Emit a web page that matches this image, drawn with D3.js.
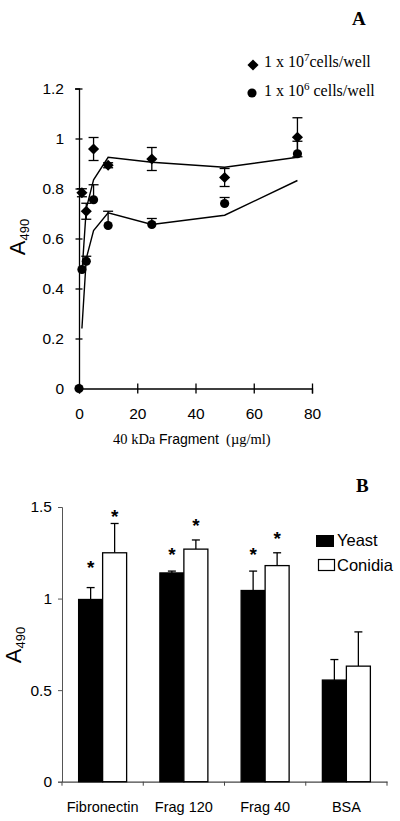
<!DOCTYPE html>
<html><head><meta charset="utf-8">
<script src="https://cdn.jsdelivr.net/npm/d3@7"></script>
<style>body{margin:0;background:#fff}svg{display:block}</style>
</head><body>
<script>
// ---------- Panel A data ----------
const concA = [1, 2.5, 5, 10, 25, 50, 75];
const hiCells = [0.783, 0.709, 0.958, 0.893, 0.918, 0.844, 1.005];
const hiErr   = [0.016, 0.032, 0.046, 0.010, 0.046, 0.036, 0.078];
const hiFit   = [0.46, 0.72, 0.835, 0.925, 0.905, 0.885, 0.925];
const concLo = [0, 1, 2.5, 5, 10, 25, 50, 75];
const loCells = [0, 0.476, 0.509, 0.755, 0.652, 0.656, 0.740, 0.939];
const loErr   = [0, 0, 0.020, 0.060, 0.057, 0.024, 0.024, 0.050];
const loFit   = [0.24, 0.52, 0.632, 0.703, 0.656, 0.693, 0.832];
const yTicksA = [0, 0.2, 0.4, 0.6, 0.8, 1, 1.2];
const xTicksA = [0, 20, 40, 60, 80];

// ---------- Panel B data ----------
const categories = ["Fibronectin", "Frag 120", "Frag 40", "BSA"];
const series = ["Yeast", "Conidia"];
const yeast = [0.995, 1.14, 1.044, 0.555];
const yeastErr = [0.065, 0.01, 0.106, 0.112];
const conidia = [1.25, 1.27, 1.18, 0.631];
const conidiaErr = [0.16, 0.05, 0.07, 0.187];
const yeastStar = [1.19, 1.26, 1.26, null];
const conidiaStar = [1.465, 1.418, 1.349, null];
const yTicksB = [0, 0.5, 1, 1.5];

const sans = "'Liberation Sans', Arial, sans-serif";
const serif = "'Liberation Serif', 'Times New Roman', serif";

const svg = d3.select("body").append("svg").attr("width", 400).attr("height", 821);

// ================= Panel A =================
const xA = d3.scaleLinear().domain([0, 80]).range([79, 312]);
const yA = d3.scaleLinear().domain([0, 1.2]).range([388.5, 88.5]);
const gA = svg.append("g");

const axYA = gA.append("g").attr("transform", `translate(${xA(0)},0)`)
  .call(d3.axisLeft(yA).tickValues(yTicksA).tickSizeOuter(0).tickSize(4).tickPadding(11)
    .tickFormat(d => d3.format("")(+d.toFixed(1))));
axYA.selectAll(".tick line").attr("x1", 3.5).attr("x2", -3.5);
axYA.selectAll("text").style("font-family", sans).style("font-size", "15.5px").attr("dy", "0.34em");

const axXA = gA.append("g").attr("transform", `translate(0,${yA(0)})`)
  .call(d3.axisBottom(xA).tickValues(xTicksA).tickSizeOuter(0).tickSize(5).tickPadding(14));
axXA.selectAll(".tick line").attr("y1", -5).attr("y2", 5);
axXA.selectAll("text").style("font-family", sans).style("font-size", "15.5px");
gA.selectAll(".domain, .tick line").attr("stroke", "#000").attr("stroke-width", 1.3);

// fit lines
const lineA = d3.line().x((d, i) => xA(concA[i])).y(d => yA(d));
[hiFit, loFit].forEach(f => gA.append("path").attr("d", lineA(f))
  .attr("fill", "none").attr("stroke", "#000").attr("stroke-width", 1.4));

// error bars
function errA(xs, vals, errs, both) {
  xs.forEach((xv, i) => {
    if (!errs[i]) return;
    const cx = xA(xv), top = yA(vals[i] + errs[i]), bot = both ? yA(vals[i] - errs[i]) : yA(vals[i]);
    gA.append("line").attr("x1", cx).attr("x2", cx).attr("y1", top).attr("y2", bot)
      .attr("stroke", "#000").attr("stroke-width", 1.3);
    gA.append("line").attr("x1", cx - 5).attr("x2", cx + 5).attr("y1", top).attr("y2", top)
      .attr("stroke", "#000").attr("stroke-width", 1.3);
    if (both) gA.append("line").attr("x1", cx - 5).attr("x2", cx + 5).attr("y1", bot).attr("y2", bot)
      .attr("stroke", "#000").attr("stroke-width", 1.3);
  });
}
errA(concA, hiCells, hiErr, true);
errA(concLo, loCells, loErr, false);

const diamond = d3.symbol().type(d3.symbolSquare).size(62);
const circle = d3.symbol().type(d3.symbolCircle).size(66);
gA.selectAll(".dia").data(hiCells).join("path")
  .attr("d", diamond).attr("transform", (d, i) => `translate(${xA(concA[i])},${yA(d)}) rotate(45)`);
gA.selectAll(".cir").data(loCells).join("path")
  .attr("d", circle).attr("transform", (d, i) => `translate(${xA(concLo[i])},${yA(d)})`);

// legend A
gA.append("path").attr("d", diamond).attr("transform", "translate(253,65) rotate(45)");
gA.append("path").attr("d", circle).attr("transform", "translate(252,93)");
function legText(y, exp, gap) {
  const t = gA.append("text").attr("x", 264).attr("y", y).style("font-family", serif).style("font-size", "16px");
  t.append("tspan").text("1 x 10");
  t.append("tspan").attr("dy", -6).style("font-size", "11px").text(exp);
  t.append("tspan").attr("dy", 6).text((gap ? "\u00a0" : "") + "cells/well");
}
legText(67, "7", false);
legText(96, "6", true);

gA.append("text").attr("x", 352).attr("y", 25).style("font-family", serif).style("font-weight", "bold")
  .style("font-size", "19px").text("A");

// y label
function yLabel(g, cx, cy) {
  const t = g.append("text").attr("transform", `translate(${cx},${cy}) rotate(-90)`)
    .attr("text-anchor", "middle").style("font-family", sans).style("font-size", "22px");
  t.append("tspan").text("A");
  t.append("tspan").attr("dy", 4).style("font-size", "13px").text("490");
}
yLabel(gA, 25, 237);

// x label A
const xl = gA.append("text").attr("x", 113).attr("y", 444).style("font-size", "14.5px");
xl.append("tspan").style("font-family", serif).text("40 kDa ");
xl.append("tspan").style("font-family", sans).style("font-size", "14px").text("Fragment");
xl.append("tspan").style("font-family", serif).text("\u00a0\u00a0(\u00b5g/ml)");

// ================= Panel B =================
const xB = d3.scaleBand().domain(categories).range([62, 387]).padding(0);
const inner = d3.scaleBand().domain(series).range([xB.bandwidth() / 2 - 24, xB.bandwidth() / 2 + 24]).padding(0);
const yB = d3.scaleLinear().domain([0, 1.5]).range([781.7, 507]);
const gB = svg.append("g");

const axYB = gB.append("g").attr("transform", "translate(62,0)")
  .call(d3.axisLeft(yB).tickValues(yTicksB).tickSizeOuter(0).tickSize(4).tickPadding(6)
    .tickFormat(d => String(d)));
axYB.selectAll("text").style("font-family", sans).style("font-size", "15.5px");
axYB.selectAll(".domain, .tick line").attr("stroke", "#555").attr("stroke-width", 1);

const axXB = gB.append("g").attr("transform", `translate(0,${yB(0)})`)
  .call(d3.axisBottom(xB).tickSize(0).tickSizeOuter(0).tickPadding(20));
axXB.selectAll("text").style("font-family", sans).style("font-size", "14.5px");
axXB.select(".domain").attr("stroke", "#444").attr("stroke-width", 1.2);
const edges = categories.map(c => xB(c)).concat([xB(categories[categories.length - 1]) + xB.bandwidth()]);
gB.selectAll(".edge").data(edges).join("line")
  .attr("x1", d => d).attr("x2", d => d).attr("y1", yB(0)).attr("y2", yB(0) + 4)
  .attr("stroke", "#444").attr("stroke-width", 1);

const valsBy = { Yeast: yeast, Conidia: conidia };
const errBy = { Yeast: yeastErr, Conidia: conidiaErr };
const starBy = { Yeast: yeastStar, Conidia: conidiaStar };
series.forEach(s => {
  categories.forEach((c, i) => {
    const x0 = xB(c) + inner(s), w = inner.bandwidth(), v = valsBy[s][i], cx = x0 + w / 2;
    const e = errBy[s][i];
    gB.append("line").attr("x1", cx).attr("x2", cx).attr("y1", yB(v)).attr("y2", yB(v + e))
      .attr("stroke", "#000").attr("stroke-width", 1.3);
    gB.append("line").attr("x1", cx - 4).attr("x2", cx + 4).attr("y1", yB(v + e)).attr("y2", yB(v + e))
      .attr("stroke", "#000").attr("stroke-width", 1.3);
    gB.append("rect").attr("x", x0).attr("y", yB(v)).attr("width", w).attr("height", yB(0) - yB(v))
      .attr("fill", s === "Yeast" ? "#000" : "#fff").attr("stroke", "#000").attr("stroke-width", 1.3);
    const st = starBy[s][i];
    if (st != null) gB.append("text").attr("x", cx).attr("y", yB(st) + 10).attr("text-anchor", "middle")
      .style("font-family", sans).style("font-size", "19px").style("font-weight", "bold").text("*");
  });
});

// legend B
gB.append("rect").attr("x", 316).attr("y", 535).attr("width", 18).attr("height", 12).attr("fill", "#000");
gB.append("rect").attr("x", 318.5).attr("y", 559.5).attr("width", 16).attr("height", 11)
  .attr("fill", "#fff").attr("stroke", "#000").attr("stroke-width", 1.2);
gB.append("text").attr("x", 337).attr("y", 546).style("font-family", sans).style("font-size", "16.5px").text("Yeast");
gB.append("text").attr("x", 337).attr("y", 571).style("font-family", sans).style("font-size", "16.5px").text("Conidia");

gB.append("text").attr("x", 356).attr("y", 492).style("font-family", serif).style("font-weight", "bold")
  .style("font-size", "19px").text("B");

yLabel(gB, 21, 645);
</script>
</body></html>
